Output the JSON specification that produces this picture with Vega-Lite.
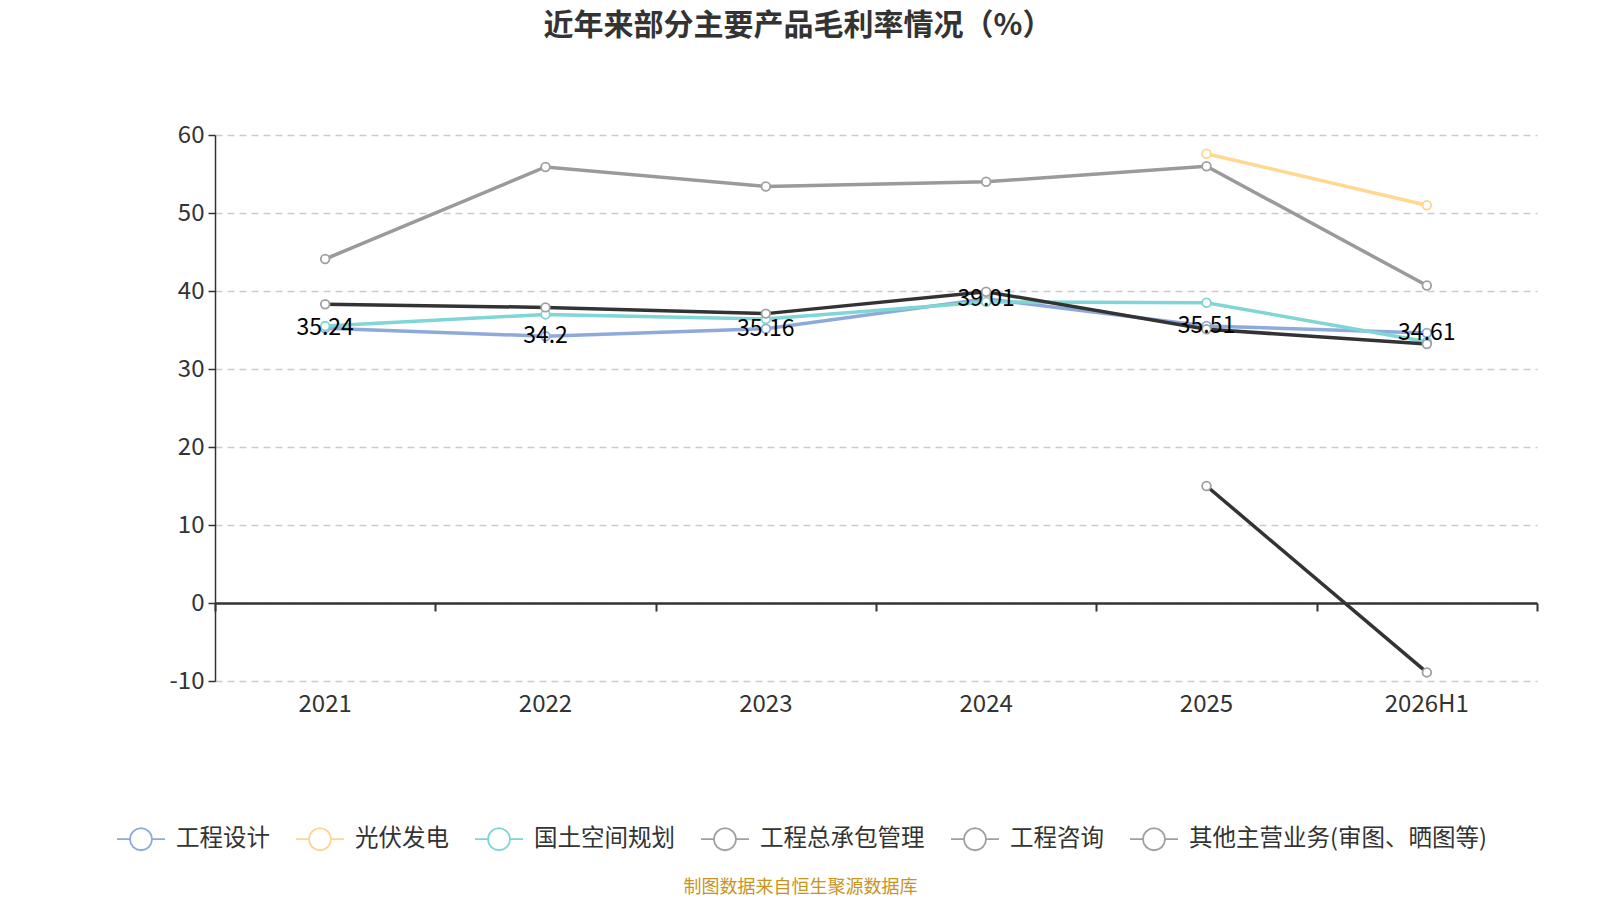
{
  "$schema": "https://vega.github.io/schema/vega-lite/v6.json",
  "autosize": {"type": "none"},
  "width": 1322,
  "height": 546,
  "padding": {"left": 215, "top": 135, "right": 63, "bottom": 219},
  "background": "white",
  "config": {
    "font": "Noto Sans CJK SC",
    "view": {"stroke": null}
  },
  "title": {
    "text": "近年来部分主要产品毛利率情况（%）",
    "fontSize": 30,
    "fontWeight": "bold",
    "color": "#333333",
    "anchor": "middle",
    "frame": "group",
    "dx": -78,
    "baseline": "bottom",
    "offset": 52
  },
  "data": {
    "values": [
      {"series": "工程设计", "year": "2021", "value": 35.24},
      {"series": "工程设计", "year": "2022", "value": 34.2},
      {"series": "工程设计", "year": "2023", "value": 35.16},
      {"series": "工程设计", "year": "2024", "value": 39.01},
      {"series": "工程设计", "year": "2025", "value": 35.51},
      {"series": "工程设计", "year": "2026H1", "value": 34.61},
      {"series": "光伏发电", "year": "2025", "value": 57.6},
      {"series": "光伏发电", "year": "2026H1", "value": 51.0},
      {"series": "国土空间规划", "year": "2021", "value": 35.5},
      {"series": "国土空间规划", "year": "2022", "value": 37.0},
      {"series": "国土空间规划", "year": "2023", "value": 36.4},
      {"series": "国土空间规划", "year": "2024", "value": 38.6},
      {"series": "国土空间规划", "year": "2025", "value": 38.5},
      {"series": "国土空间规划", "year": "2026H1", "value": 33.5},
      {"series": "工程咨询", "year": "2021", "value": 44.1},
      {"series": "工程咨询", "year": "2022", "value": 55.9},
      {"series": "工程咨询", "year": "2023", "value": 53.4},
      {"series": "工程咨询", "year": "2024", "value": 54.0},
      {"series": "工程咨询", "year": "2025", "value": 56.0},
      {"series": "工程咨询", "year": "2026H1", "value": 40.7},
      {"series": "其他主营业务(审图、晒图等)", "year": "2025", "value": 15.0},
      {"series": "其他主营业务(审图、晒图等)", "year": "2026H1", "value": -8.9},
      {"series": "工程总承包管理", "year": "2021", "value": 38.3},
      {"series": "工程总承包管理", "year": "2022", "value": 37.9},
      {"series": "工程总承包管理", "year": "2023", "value": 37.1},
      {"series": "工程总承包管理", "year": "2024", "value": 39.9},
      {"series": "工程总承包管理", "year": "2025", "value": 35.1},
      {"series": "工程总承包管理", "year": "2026H1", "value": 33.2}
    ]
  },
  "resolve": {"axis": {"x": "independent"}},
  "layer": [
    {
      "mark": {"type": "line", "strokeWidth": 3.5},
      "encoding": {
        "x": {
          "field": "year",
          "type": "nominal",
          "bandPosition": 0.5,
          "sort": ["2021", "2022", "2023", "2024", "2025", "2026H1"],
          "scale": {"type": "band", "paddingInner": 0, "paddingOuter": 0},
          "axis": {
            "orient": "bottom",
            "domain": false,
            "ticks": false,
            "labelAngle": 0,
            "labelFontSize": 24,
            "labelColor": "#333333",
            "labelPadding": 11,
            "title": "制图数据来自恒生聚源数据库",
            "titleFontSize": 18,
            "titleFontWeight": "normal",
            "titleColor": "#c8941e",
            "titleX": 585,
            "titleY": 206,
            "titleBaseline": "middle"
          }
        },
        "y": {
          "field": "value",
          "type": "quantitative",
          "scale": {"domain": [-10, 60], "nice": false, "zero": false},
          "axis": {
            "values": [-10, 0, 10, 20, 30, 40, 50, 60],
            "labelExpr": "datum.value < 0 ? '-' + abs(datum.value) : '' + datum.value",
            "title": null,
            "domainColor": "#333333",
            "domainWidth": 1.5,
            "tickColor": "#333333",
            "tickSize": 7,
            "tickWidth": 1.5,
            "labelFontSize": 24,
            "labelColor": "#333333",
            "labelPadding": 4,
            "grid": true,
            "gridColor": "#cccccc",
            "gridDash": [7, 5],
            "gridWidth": 1.5
          }
        },
        "color": {
          "field": "series",
          "legend": null,
          "scale": {
            "domain": ["工程咨询", "工程设计", "光伏发电", "国土空间规划", "工程总承包管理", "其他主营业务(审图、晒图等)"],
            "range": ["#9a9a9a", "#8eaadb", "#fed98f", "#80d5d5", "#333333", "#333333"]
          }
        }
      }
    },
    {
      "mark": {"type": "point", "filled": false, "fill": "white", "size": 75, "strokeWidth": 1.8, "opacity": 1},
      "encoding": {
        "x": {"field": "year", "type": "nominal", "bandPosition": 0.5, "sort": ["2021", "2022", "2023", "2024", "2025", "2026H1"], "axis": null},
        "y": {"field": "value", "type": "quantitative"},
        "stroke": {
          "field": "series",
          "scale": {
            "domain": ["工程设计", "光伏发电", "国土空间规划", "工程总承包管理", "工程咨询", "其他主营业务(审图、晒图等)"],
            "range": ["#8eaadb", "#fdd590", "#80d4d4", "#a0a0a0", "#a0a0a0", "#a0a0a0"]
          },
          "legend": {
            "title": null,
            "orient": "none",
            "direction": "horizontal",
            "legendX": -99,
            "legendY": 679,
            "symbolType": "M-1,0L-0.46,0M0.46,0L1,0M0.46,0L0.425,0.176L0.325,0.325L0.176,0.425L0,0.46L-0.176,0.425L-0.325,0.325L-0.425,0.176L-0.46,0L-0.425,-0.176L-0.325,-0.325L-0.176,-0.425L0,-0.46L0.176,-0.425L0.325,-0.325L0.425,-0.176Z",
            "symbolSize": 2304,
            "symbolStrokeWidth": 1.8,
            "symbolFillColor": "white",
            "labelFontSize": 23.5,
            "labelColor": "#333333",
            "labelOffset": 10,
            "columnPadding": 22,
            "labelLimit": 400
          }
        }
      }
    },
    {
      "transform": [{"filter": "datum.series === '工程设计'"}],
      "mark": {"type": "text", "fontSize": 23, "color": "#000000", "baseline": "middle", "align": "center"},
      "encoding": {
        "x": {"field": "year", "type": "nominal", "bandPosition": 0.5, "sort": ["2021", "2022", "2023", "2024", "2025", "2026H1"], "axis": null},
        "y": {"field": "value", "type": "quantitative"},
        "text": {"field": "value", "type": "quantitative", "format": ".4~r"}
      }
    },
    {
      "mark": {"type": "rule", "opacity": 0},
      "encoding": {
        "x": {
          "field": "year",
          "type": "nominal",
          "sort": ["2021", "2022", "2023", "2024", "2025", "2026H1"],
          "axis": {
            "orient": "bottom",
            "offset": -78,
            "labels": false,
            "title": null,
            "grid": false,
            "domainColor": "#333333",
            "domainWidth": 2.5,
            "ticks": true,
            "tickBand": "extent",
            "tickColor": "#333333",
            "tickWidth": 2,
            "tickSize": 8
          }
        },
        "y": {"datum": 0}
      }
    }
  ]
}
